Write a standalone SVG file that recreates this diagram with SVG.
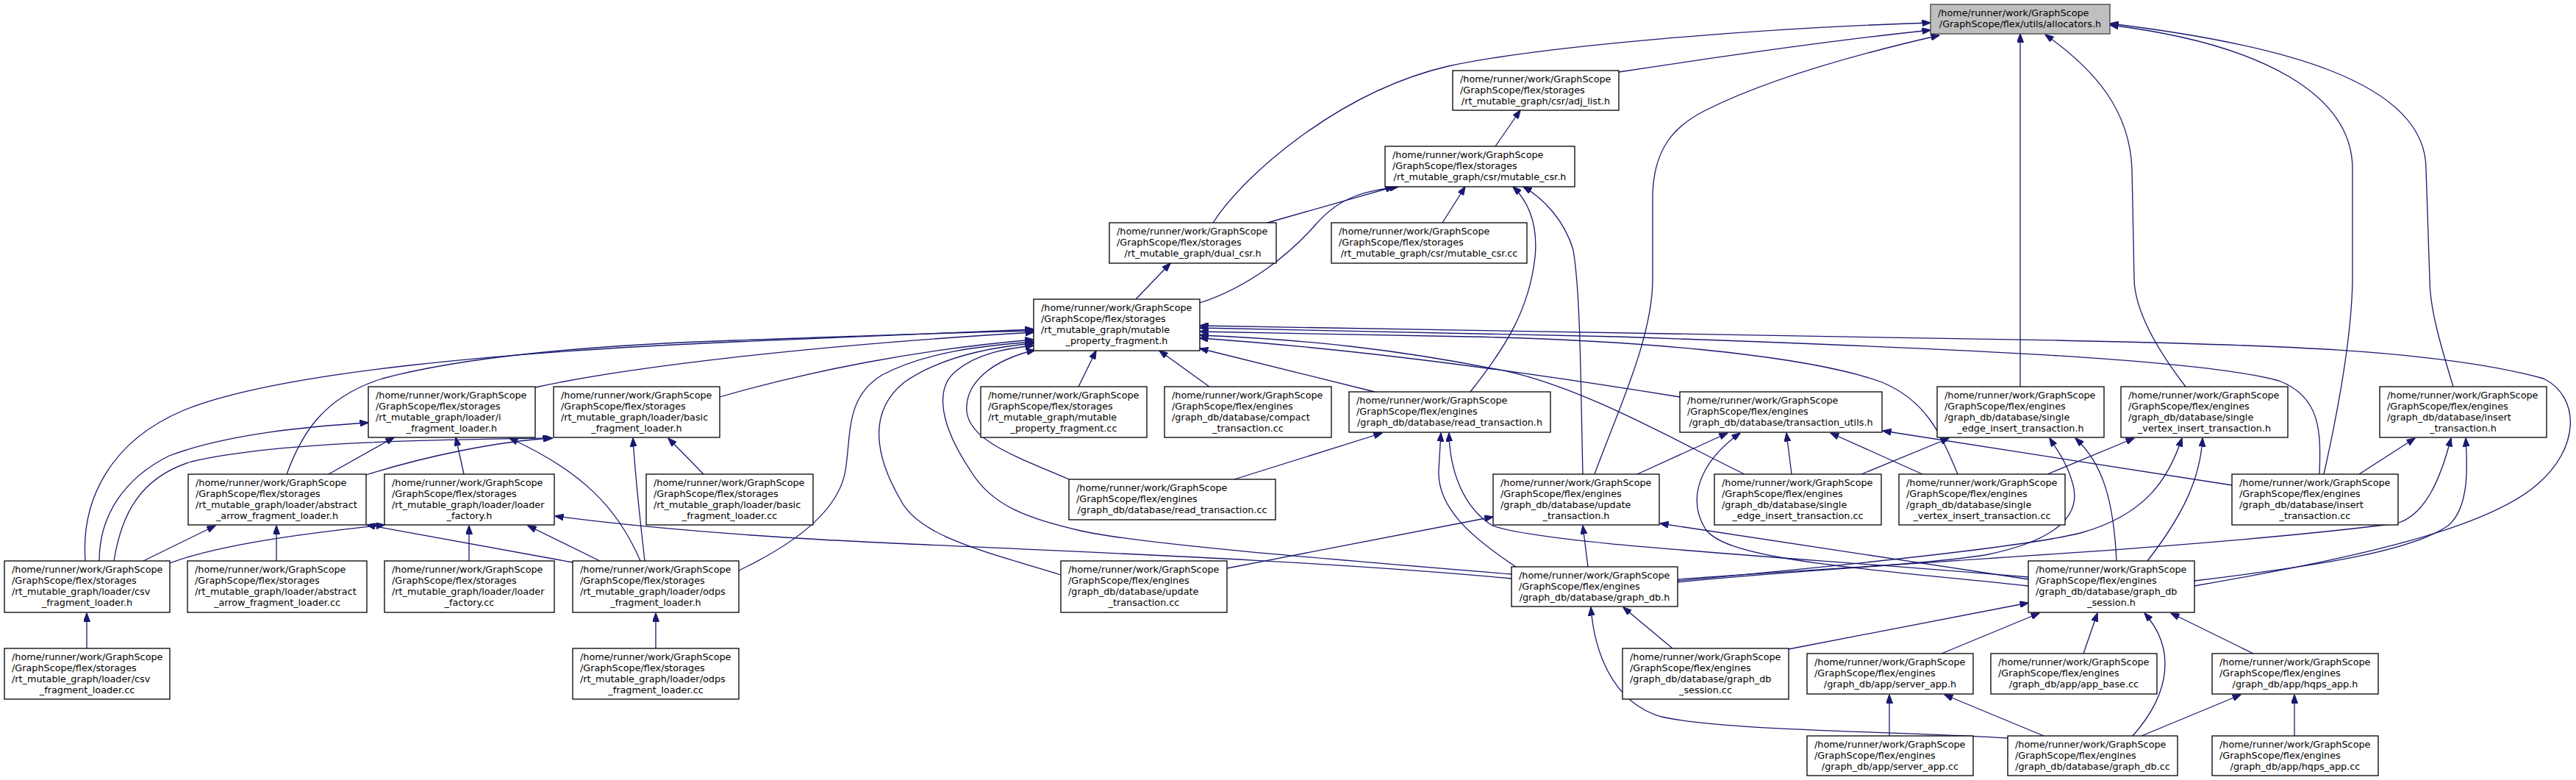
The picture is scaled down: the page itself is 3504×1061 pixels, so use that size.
<svg xmlns="http://www.w3.org/2000/svg" width="3504" height="1061" viewBox="0 0 3504 1061">
<style>
.e{fill:none;stroke:#191970;stroke-width:1.3;marker-end:url(#a)}
.n rect{fill:#fff;stroke:#000;stroke-width:1.3}
#n1 rect{fill:#bfbfbf;stroke:#404040}
text{font-family:"DejaVu Sans","Liberation Sans",sans-serif;font-size:12.8px;fill:#000}
.c{text-anchor:middle}
</style>
<defs>
<marker id="a" markerWidth="12" markerHeight="9" refX="11.5" refY="4.5" orient="auto" markerUnits="userSpaceOnUse"><path d="M0,0 L12,4.5 L0,9 z" fill="#191970" stroke="#191970" stroke-width="1"/></marker>
</defs>
<rect width="3504" height="1061" fill="#fff"/>
<g id="edges">
<path class="e" d="M2202,98 C2320,80 2480,56 2626,41"/>
<path class="e" d="M1650,303 C1690,240 1820,125 1970,90 C2100,62 2400,38 2626,31"/>
<path class="e" d="M2169,645 C2200,560 2248,460 2248,380 L2248,270 C2248,200 2280,170 2320,150 C2400,110 2520,75 2638,48"/>
<path class="e" d="M2748,526 L2748,46"/>
<path class="e" d="M2973,526 C2930,470 2904,420 2903,380 L2900,230 C2897,150 2850,95 2782,47"/>
<path class="e" d="M3161,645 C3180,560 3199,460 3200,380 L3200,230 C3200,130 3080,60 2870,34"/>
<path class="e" d="M3337,526 C3320,470 3305,420 3305,380 L3300,230 C3300,110 3100,60 2870,32"/>
<path class="e" d="M2034,199 L2068,150"/>
<path class="e" d="M1724,303 L1896,254"/>
<path class="e" d="M1962,303 L1993,254"/>
<path class="e" d="M1632,412 C1700,390 1755,345 1790,305 C1825,265 1860,260 1902,254"/>
<path class="e" d="M1545,407 L1592,358"/>
<path class="e" d="M2000,533 C2050,470 2080,420 2088,350 C2093,300 2075,270 2058,254"/>
<path class="e" d="M2153,645 C2150,520 2150,400 2140,340 C2128,300 2100,270 2072,254"/>
<path class="e" d="M728,527 C850,500 1100,470 1406,452"/>
<path class="e" d="M979,540 C1100,505 1250,475 1406,462"/>
<path class="e" d="M116,763 C110,680 150,600 250,558 C380,505 700,478 1000,465 C1150,458 1300,452 1406,448"/>
<path class="e" d="M390,645 C410,590 440,540 520,515 C650,480 850,468 1000,463 C1150,458 1300,452 1406,450"/>
<path class="e" d="M1005,776 C1070,745 1140,700 1150,640 C1158,590 1150,540 1200,510 C1260,478 1340,470 1406,465"/>
<path class="e" d="M1443,782 C1340,750 1250,730 1225,680 C1190,620 1180,560 1230,520 C1280,485 1350,472 1406,467"/>
<path class="e" d="M2056,781 C1800,760 1550,740 1470,722 C1400,705 1350,690 1320,640 C1280,580 1270,530 1300,505 C1330,480 1370,474 1406,470"/>
<path class="e" d="M1454,652 C1380,620 1320,600 1315,560 C1312,520 1350,490 1408,476"/>
<path class="e" d="M1467,526 L1491,477"/>
<path class="e" d="M1645,526 L1577,477"/>
<path class="e" d="M1870,533 L1632,474"/>
<path class="e" d="M2285,540 C2100,510 1850,475 1632,460"/>
<path class="e" d="M2373,645 C2280,600 2160,530 2050,505 C1900,475 1780,462 1632,456"/>
<path class="e" d="M2663,645 C2640,590 2620,545 2560,520 C2450,480 2200,462 2000,458 C1850,455 1720,452 1632,451"/>
<path class="e" d="M3155,645 C3157,590 3158,540 3100,518 C3000,490 2700,475 2200,458 C2000,452 1800,448 1632,446"/>
<path class="e" d="M2985,797 C3200,760 3380,720 3450,660 C3510,610 3510,540 3460,515 C3300,470 3000,468 2800,463 C2400,455 2000,448 1632,443"/>
<path class="e" d="M447,645 L536,595"/>
<path class="e" d="M631,645 L620,595"/>
<path class="e" d="M871,763 C840,690 790,640 693,596"/>
<path class="e" d="M135,763 C135,700 170,650 230,620 C310,590 420,580 501,575"/>
<path class="e" d="M498,646 C580,620 680,600 750,596"/>
<path class="e" d="M155,763 C165,700 190,650 260,628 C380,600 600,598 752,596"/>
<path class="e" d="M877,763 C870,700 864,650 861,596"/>
<path class="e" d="M957,645 L909,596"/>
<path class="e" d="M195,763 L293,715"/>
<path class="e" d="M376,763 L376,715"/>
<path class="e" d="M779,765 L499,714"/>
<path class="e" d="M231,766 C300,740 420,725 523,714"/>
<path class="e" d="M638,763 L638,715"/>
<path class="e" d="M816,763 L718,715"/>
<path class="e" d="M2056,787 C1750,758 1300,745 1100,733 C950,724 830,712 755,702"/>
<path class="e" d="M118,882 L118,834"/>
<path class="e" d="M892,882 L892,834"/>
<path class="e" d="M1679,652 L1880,589"/>
<path class="e" d="M2227,645 L2350,589"/>
<path class="e" d="M2759,797 C2500,770 2350,760 2320,720 C2295,680 2310,630 2367,589"/>
<path class="e" d="M2437,645 L2430,589"/>
<path class="e" d="M2615,645 L2490,589"/>
<path class="e" d="M3036,660 L2561,586"/>
<path class="e" d="M2532,645 L2651,596"/>
<path class="e" d="M2282,792 C2450,775 2600,770 2700,755 C2800,735 2830,700 2820,660 C2812,630 2800,615 2788,596"/>
<path class="e" d="M2879,763 C2875,680 2860,630 2823,596"/>
<path class="e" d="M2785,645 L2903,596"/>
<path class="e" d="M2282,790 C2500,770 2750,745 2830,725 C2920,700 2950,650 2968,596"/>
<path class="e" d="M2921,763 C2970,700 2993,650 2996,596"/>
<path class="e" d="M3209,645 L3285,596"/>
<path class="e" d="M2282,788 C2600,765 3000,745 3260,712 C3300,700 3320,650 3334,596"/>
<path class="e" d="M2985,790 C3150,770 3280,750 3330,715 C3360,690 3356,630 3354,596"/>
<path class="e" d="M1669,773 L2031,703"/>
<path class="e" d="M2160,771 L2153,715"/>
<path class="e" d="M2759,788 L2258,712"/>
<path class="e" d="M2062,771 C2000,730 1955,690 1957,640 L1960,589"/>
<path class="e" d="M2759,785 C2400,755 2100,740 2030,715 C1990,690 1972,640 1971,589"/>
<path class="e" d="M2275,882 L2208,826"/>
<path class="e" d="M2731,1004 C2600,995 2350,995 2260,975 C2190,955 2168,880 2164,826"/>
<path class="e" d="M2433,883 L2759,820"/>
<path class="e" d="M2641,889 L2774,834"/>
<path class="e" d="M2834,889 L2853,834"/>
<path class="e" d="M2901,1001 C2955,940 2958,880 2917,834"/>
<path class="e" d="M3065,889 L2953,834"/>
<path class="e" d="M2570,1001 L2570,945"/>
<path class="e" d="M2780,1001 L2645,945"/>
<path class="e" d="M2913,1001 L3048,945"/>
<path class="e" d="M3121,1001 L3121,945"/>
</g>
<g id="n1" class="n"><rect x="2626" y="6" width="244" height="40"/><text x="2636" y="22">/home/runner/work/GraphScope</text><text class="c" x="2748" y="37">/GraphScope/flex/utils/allocators.h</text></g>
<g id="n2" class="n"><rect x="1976" y="96" width="226" height="54"/><text x="1986" y="112">/home/runner/work/GraphScope</text><text x="1986" y="127">/GraphScope/flex/storages</text><text class="c" x="2089" y="142">/rt_mutable_graph/csr/adj_list.h</text></g>
<g id="n3" class="n"><rect x="1884" y="199" width="258" height="55"/><text x="1894" y="215">/home/runner/work/GraphScope</text><text x="1894" y="230">/GraphScope/flex/storages</text><text class="c" x="2013" y="245">/rt_mutable_graph/csr/mutable_csr.h</text></g>
<g id="n4" class="n"><rect x="1509" y="303" width="227" height="55"/><text x="1519" y="319">/home/runner/work/GraphScope</text><text x="1519" y="334">/GraphScope/flex/storages</text><text class="c" x="1622.5" y="349">/rt_mutable_graph/dual_csr.h</text></g>
<g id="n5" class="n"><rect x="1811" y="303" width="266" height="55"/><text x="1821" y="319">/home/runner/work/GraphScope</text><text x="1821" y="334">/GraphScope/flex/storages</text><text class="c" x="1944" y="349">/rt_mutable_graph/csr/mutable_csr.cc</text></g>
<g id="n6" class="n"><rect x="1406" y="407" width="226" height="70"/><text x="1416" y="423">/home/runner/work/GraphScope</text><text x="1416" y="438">/GraphScope/flex/storages</text><text x="1416" y="453">/rt_mutable_graph/mutable</text><text class="c" x="1519" y="468">_property_fragment.h</text></g>
<g id="n7" class="n"><rect x="501" y="526" width="227" height="69"/><text x="511" y="542">/home/runner/work/GraphScope</text><text x="511" y="557">/GraphScope/flex/storages</text><text x="511" y="572">/rt_mutable_graph/loader/i</text><text class="c" x="614.5" y="587">_fragment_loader.h</text></g>
<g id="n8" class="n"><rect x="753" y="526" width="226" height="69"/><text x="763" y="542">/home/runner/work/GraphScope</text><text x="763" y="557">/GraphScope/flex/storages</text><text x="763" y="572">/rt_mutable_graph/loader/basic</text><text class="c" x="866" y="587">_fragment_loader.h</text></g>
<g id="n9" class="n"><rect x="1334" y="526" width="226" height="69"/><text x="1344" y="542">/home/runner/work/GraphScope</text><text x="1344" y="557">/GraphScope/flex/storages</text><text x="1344" y="572">/rt_mutable_graph/mutable</text><text class="c" x="1447" y="587">_property_fragment.cc</text></g>
<g id="n10" class="n"><rect x="1584" y="526" width="227" height="69"/><text x="1594" y="542">/home/runner/work/GraphScope</text><text x="1594" y="557">/GraphScope/flex/engines</text><text x="1594" y="572">/graph_db/database/compact</text><text class="c" x="1697.5" y="587">_transaction.cc</text></g>
<g id="n11" class="n"><rect x="1835" y="533" width="274" height="55"/><text x="1845" y="549">/home/runner/work/GraphScope</text><text x="1845" y="564">/GraphScope/flex/engines</text><text class="c" x="1972" y="579">/graph_db/database/read_transaction.h</text></g>
<g id="n12" class="n"><rect x="2285" y="533" width="275" height="55"/><text x="2295" y="549">/home/runner/work/GraphScope</text><text x="2295" y="564">/GraphScope/flex/engines</text><text class="c" x="2422.5" y="579">/graph_db/database/transaction_utils.h</text></g>
<g id="n13" class="n"><rect x="2635" y="526" width="227" height="69"/><text x="2645" y="542">/home/runner/work/GraphScope</text><text x="2645" y="557">/GraphScope/flex/engines</text><text x="2645" y="572">/graph_db/database/single</text><text class="c" x="2748.5" y="587">_edge_insert_transaction.h</text></g>
<g id="n14" class="n"><rect x="2885" y="526" width="227" height="69"/><text x="2895" y="542">/home/runner/work/GraphScope</text><text x="2895" y="557">/GraphScope/flex/engines</text><text x="2895" y="572">/graph_db/database/single</text><text class="c" x="2998.5" y="587">_vertex_insert_transaction.h</text></g>
<g id="n15" class="n"><rect x="3237" y="526" width="227" height="69"/><text x="3247" y="542">/home/runner/work/GraphScope</text><text x="3247" y="557">/GraphScope/flex/engines</text><text x="3247" y="572">/graph_db/database/insert</text><text class="c" x="3350.5" y="587">_transaction.h</text></g>
<g id="n16" class="n"><rect x="256" y="645" width="242" height="69"/><text x="266" y="661">/home/runner/work/GraphScope</text><text x="266" y="676">/GraphScope/flex/storages</text><text x="266" y="691">/rt_mutable_graph/loader/abstract</text><text class="c" x="377" y="706">_arrow_fragment_loader.h</text></g>
<g id="n17" class="n"><rect x="523" y="645" width="231" height="69"/><text x="533" y="661">/home/runner/work/GraphScope</text><text x="533" y="676">/GraphScope/flex/storages</text><text x="533" y="691">/rt_mutable_graph/loader/loader</text><text class="c" x="638.5" y="706">_factory.h</text></g>
<g id="n18" class="n"><rect x="879" y="645" width="227" height="69"/><text x="889" y="661">/home/runner/work/GraphScope</text><text x="889" y="676">/GraphScope/flex/storages</text><text x="889" y="691">/rt_mutable_graph/loader/basic</text><text class="c" x="992.5" y="706">_fragment_loader.cc</text></g>
<g id="n19" class="n"><rect x="1454" y="652" width="281" height="55"/><text x="1464" y="668">/home/runner/work/GraphScope</text><text x="1464" y="683">/GraphScope/flex/engines</text><text class="c" x="1594.5" y="698">/graph_db/database/read_transaction.cc</text></g>
<g id="n20" class="n"><rect x="2031" y="645" width="226" height="69"/><text x="2041" y="661">/home/runner/work/GraphScope</text><text x="2041" y="676">/GraphScope/flex/engines</text><text x="2041" y="691">/graph_db/database/update</text><text class="c" x="2144" y="706">_transaction.h</text></g>
<g id="n21" class="n"><rect x="2332" y="645" width="227" height="69"/><text x="2342" y="661">/home/runner/work/GraphScope</text><text x="2342" y="676">/GraphScope/flex/engines</text><text x="2342" y="691">/graph_db/database/single</text><text class="c" x="2445.5" y="706">_edge_insert_transaction.cc</text></g>
<g id="n22" class="n"><rect x="2583" y="645" width="226" height="69"/><text x="2593" y="661">/home/runner/work/GraphScope</text><text x="2593" y="676">/GraphScope/flex/engines</text><text x="2593" y="691">/graph_db/database/single</text><text class="c" x="2696" y="706">_vertex_insert_transaction.cc</text></g>
<g id="n23" class="n"><rect x="3036" y="645" width="226" height="69"/><text x="3046" y="661">/home/runner/work/GraphScope</text><text x="3046" y="676">/GraphScope/flex/engines</text><text x="3046" y="691">/graph_db/database/insert</text><text class="c" x="3149" y="706">_transaction.cc</text></g>
<g id="n24" class="n"><rect x="6" y="763" width="225" height="70"/><text x="16" y="779">/home/runner/work/GraphScope</text><text x="16" y="794">/GraphScope/flex/storages</text><text x="16" y="809">/rt_mutable_graph/loader/csv</text><text class="c" x="118.5" y="824">_fragment_loader.h</text></g>
<g id="n25" class="n"><rect x="255" y="763" width="244" height="70"/><text x="265" y="779">/home/runner/work/GraphScope</text><text x="265" y="794">/GraphScope/flex/storages</text><text x="265" y="809">/rt_mutable_graph/loader/abstract</text><text class="c" x="377" y="824">_arrow_fragment_loader.cc</text></g>
<g id="n26" class="n"><rect x="523" y="763" width="231" height="70"/><text x="533" y="779">/home/runner/work/GraphScope</text><text x="533" y="794">/GraphScope/flex/storages</text><text x="533" y="809">/rt_mutable_graph/loader/loader</text><text class="c" x="638.5" y="824">_factory.cc</text></g>
<g id="n27" class="n"><rect x="779" y="763" width="226" height="70"/><text x="789" y="779">/home/runner/work/GraphScope</text><text x="789" y="794">/GraphScope/flex/storages</text><text x="789" y="809">/rt_mutable_graph/loader/odps</text><text class="c" x="892" y="824">_fragment_loader.h</text></g>
<g id="n28" class="n"><rect x="1443" y="763" width="226" height="70"/><text x="1453" y="779">/home/runner/work/GraphScope</text><text x="1453" y="794">/GraphScope/flex/engines</text><text x="1453" y="809">/graph_db/database/update</text><text class="c" x="1556" y="824">_transaction.cc</text></g>
<g id="n29" class="n"><rect x="2056" y="771" width="226" height="54"/><text x="2066" y="787">/home/runner/work/GraphScope</text><text x="2066" y="802">/GraphScope/flex/engines</text><text class="c" x="2169" y="817">/graph_db/database/graph_db.h</text></g>
<g id="n30" class="n"><rect x="2759" y="763" width="226" height="70"/><text x="2769" y="779">/home/runner/work/GraphScope</text><text x="2769" y="794">/GraphScope/flex/engines</text><text x="2769" y="809">/graph_db/database/graph_db</text><text class="c" x="2872" y="824">_session.h</text></g>
<g id="n31" class="n"><rect x="6" y="882" width="225" height="69"/><text x="16" y="898">/home/runner/work/GraphScope</text><text x="16" y="913">/GraphScope/flex/storages</text><text x="16" y="928">/rt_mutable_graph/loader/csv</text><text class="c" x="118.5" y="943">_fragment_loader.cc</text></g>
<g id="n32" class="n"><rect x="779" y="882" width="226" height="69"/><text x="789" y="898">/home/runner/work/GraphScope</text><text x="789" y="913">/GraphScope/flex/storages</text><text x="789" y="928">/rt_mutable_graph/loader/odps</text><text class="c" x="892" y="943">_fragment_loader.cc</text></g>
<g id="n33" class="n"><rect x="2207" y="882" width="226" height="69"/><text x="2217" y="898">/home/runner/work/GraphScope</text><text x="2217" y="913">/GraphScope/flex/engines</text><text x="2217" y="928">/graph_db/database/graph_db</text><text class="c" x="2320" y="943">_session.cc</text></g>
<g id="n34" class="n"><rect x="2458" y="889" width="226" height="55"/><text x="2468" y="905">/home/runner/work/GraphScope</text><text x="2468" y="920">/GraphScope/flex/engines</text><text class="c" x="2571" y="935">/graph_db/app/server_app.h</text></g>
<g id="n35" class="n"><rect x="2708" y="889" width="226" height="55"/><text x="2718" y="905">/home/runner/work/GraphScope</text><text x="2718" y="920">/GraphScope/flex/engines</text><text class="c" x="2821" y="935">/graph_db/app/app_base.cc</text></g>
<g id="n36" class="n"><rect x="3009" y="889" width="226" height="55"/><text x="3019" y="905">/home/runner/work/GraphScope</text><text x="3019" y="920">/GraphScope/flex/engines</text><text class="c" x="3122" y="935">/graph_db/app/hqps_app.h</text></g>
<g id="n37" class="n"><rect x="2458" y="1001" width="226" height="54"/><text x="2468" y="1017">/home/runner/work/GraphScope</text><text x="2468" y="1032">/GraphScope/flex/engines</text><text class="c" x="2571" y="1047">/graph_db/app/server_app.cc</text></g>
<g id="n38" class="n"><rect x="2731" y="1001" width="231" height="54"/><text x="2741" y="1017">/home/runner/work/GraphScope</text><text x="2741" y="1032">/GraphScope/flex/engines</text><text class="c" x="2846.5" y="1047">/graph_db/database/graph_db.cc</text></g>
<g id="n39" class="n"><rect x="3009" y="1001" width="226" height="54"/><text x="3019" y="1017">/home/runner/work/GraphScope</text><text x="3019" y="1032">/GraphScope/flex/engines</text><text class="c" x="3122" y="1047">/graph_db/app/hqps_app.cc</text></g>
</svg>
